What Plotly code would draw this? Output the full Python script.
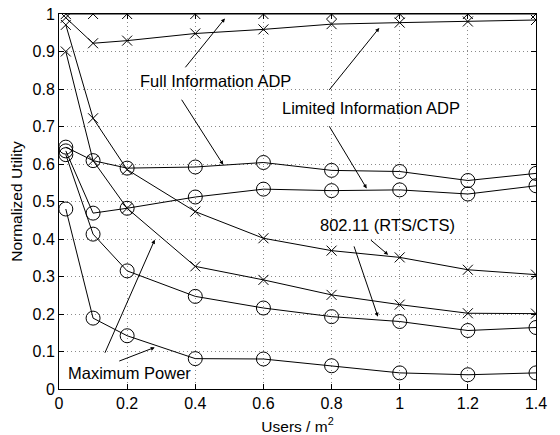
import plotly.graph_objects as go

users = [0.02, 0.1, 0.2, 0.4, 0.6, 0.8, 1.0, 1.2, 1.4]

# X-marker curves
full_x = [1.0, 1.0, 1.0, 1.0, 1.0, 1.0, 1.0, 1.0, 1.0]
limited_x = [0.99, 0.922, 0.929, 0.948, 0.959, 0.973, 0.977, 0.980, 0.984]
dot11_x = [0.971, 0.722, 0.585, 0.473, 0.402, 0.369, 0.351, 0.318, 0.305]
maxpow_x = [0.90, 0.609, 0.482, 0.327, 0.291, 0.251, 0.225, 0.202, 0.201]

# circle-marker curves
full_o = [0.645, 0.609, 0.589, 0.592, 0.604, 0.583, 0.580, 0.556, 0.575]
limited_o = [0.635, 0.469, 0.482, 0.512, 0.533, 0.529, 0.531, 0.520, 0.542]
dot11_o = [0.625, 0.413, 0.315, 0.247, 0.216, 0.193, 0.180, 0.156, 0.164]
maxpow_o = [0.480, 0.189, 0.142, 0.081, 0.080, 0.062, 0.043, 0.038, 0.043]

x_ticks = [0, 0.2, 0.4, 0.6, 0.8, 1.0, 1.2, 1.4]
x_tick_labels = ["0", "0.2", "0.4", "0.6", "0.8", "1", "1.2", "1.4"]
y_ticks = [0, 0.1, 0.2, 0.3, 0.4, 0.5, 0.6, 0.7, 0.8, 0.9, 1.0]
y_tick_labels = ["0", "0.1", "0.2", "0.3", "0.4", "0.5", "0.6", "0.7", "0.8", "0.9", "1"]

# labels: (text, text_x, text_y)
labels = [
    ("Full Information ADP", 0.459, 0.821),
    ("Limited Information ADP", 0.916, 0.750),
    ("802.11 (RTS/CTS)", 0.963, 0.438),
    ("Maximum Power", 0.207, 0.043),
]
# arrows: (tail_x, tail_y, tip_x, tip_y)
arrows = [
    (0.3606, 0.8463, 0.487, 0.988),
    (0.3497, 0.786, 0.482, 0.598),
    (0.783, 0.786, 0.94, 0.963),
    (0.783, 0.716, 0.903, 0.535),
    (0.905, 0.405, 0.966, 0.358),
    (0.856, 0.407, 0.936, 0.193),
    (0.1246, 0.0754, 0.281, 0.398),
    (0.1666, 0.0709, 0.281, 0.111),
]

FONT = "Liberation Sans, Arial, Helvetica, sans-serif"

fig = go.Figure()

for ys in [full_x, limited_x, dot11_x, maxpow_x]:
    fig.add_trace(go.Scatter(
        x=users, y=ys, mode="lines+markers",
        line=dict(color="black", width=1),
        marker=dict(symbol="x-thin-open", size=10, color="black",
                    line=dict(color="black", width=1)),
        showlegend=False,
    ))
for ys in [full_o, limited_o, dot11_o, maxpow_o]:
    fig.add_trace(go.Scatter(
        x=users, y=ys, mode="lines+markers",
        line=dict(color="black", width=1),
        marker=dict(symbol="circle-open", size=14, color="black",
                    line=dict(color="black", width=1)),
        showlegend=False,
    ))

annotations = []
for text, tx, ty in labels:
    annotations.append(dict(x=tx, y=ty, xref="x", yref="y", text=text,
                            showarrow=False, font=dict(family=FONT, size=16.5, color="black")))
for ax, ay, tx, ty in arrows:
    annotations.append(dict(x=tx, y=ty, ax=ax, ay=ay, xref="x", yref="y",
                            axref="x", ayref="y", text=" ", showarrow=True,
                            arrowhead=2, arrowsize=0.8, arrowwidth=1,
                            arrowcolor="black", standoff=0, startstandoff=0))

axis_common = dict(
    showline=True, linecolor="black", linewidth=1, mirror="ticks",
    ticks="inside", ticklen=5, tickcolor="black",
    showgrid=True, gridcolor="#8a8a8a", griddash="1px,3px", gridwidth=1,
    zeroline=False, automargin=False,
    tickfont=dict(family=FONT, size=16, color="black"),
)

fig.update_layout(
    width=560, height=435,
    margin=dict(l=59, r=24, t=14, b=46),
    paper_bgcolor="white", plot_bgcolor="white",
    font=dict(family=FONT, size=16, color="black"),
    xaxis=dict(range=[0, 1.4], tickvals=x_ticks, ticktext=x_tick_labels,
               title=dict(text="Users / m<sup>2</sup>", standoff=10,
                          font=dict(family=FONT, size=15.5)),
               **axis_common),
    yaxis=dict(range=[0, 1], tickvals=y_ticks, ticktext=y_tick_labels,
               title=dict(text="Normalized Utility", standoff=6,
                          font=dict(family=FONT, size=15.5)),
               **axis_common),
    annotations=annotations,
)

fig.write_html("out.html")
